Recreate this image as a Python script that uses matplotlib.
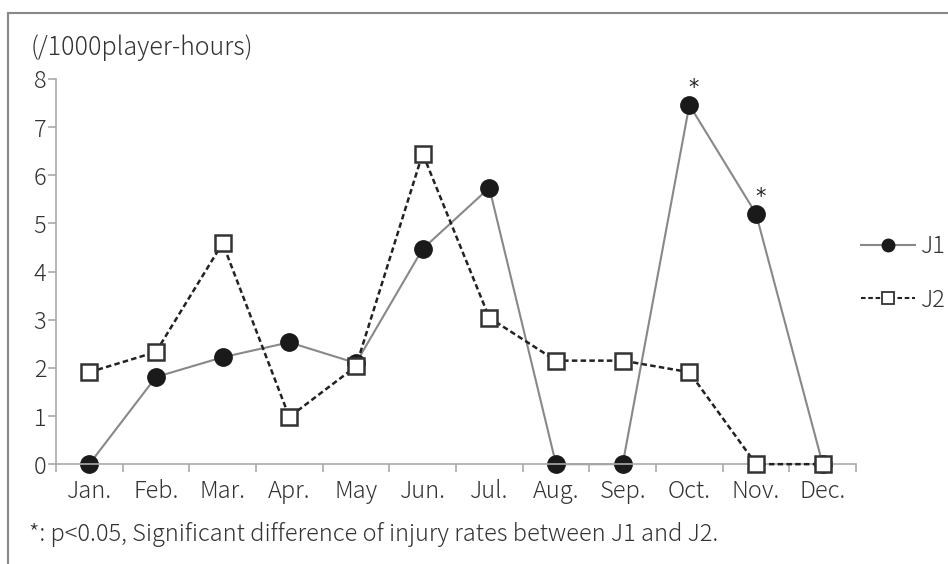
"""Monthly injury rate for J1 and J2"""

import matplotlib.pyplot as plt
from matplotlib.lines import Line2D

months = ["Jan.", "Feb.", "Mar.", "Apr.", "May", "Jun.",
          "Jul.", "Aug.", "Sep.", "Oct.", "Nov.", "Dec."]
j1_rate = [0, 1.81, 2.22, 2.53, 2.1, 4.47, 5.74, 0, 0, 7.46, 5.2, 0]
j2_rate = [1.91, 2.33, 4.59, 0.98, 2.03, 6.45, 3.04, 2.15, 2.15, 1.91, 0, 0]
significant = ["Oct.", "Nov."]

plt.rcParams['font.family'] = ['Noto Sans CJK JP', 'DejaVu Sans']
plt.rcParams['font.weight'] = 'light'
text_color = "#333333"
spine_color = "#aaaaaa"

fig = plt.figure(figsize=(9.48, 5.64), dpi=100)
ax = fig.add_axes([0.059, 0.177, 0.844, 0.683])

x = list(range(len(months)))
ax.plot(x, j1_rate, color="#888888", lw=1.5, marker="o", ms=12.5,
        mfc="#1a1a1a", mec="#1a1a1a", zorder=2)
ax.plot(x, j2_rate, color="#222222", lw=1.8, ls=(0, (2.2, 1.3)),
        marker="s", ms=11.5, mfc="white", mec="#333333", mew=1.8, zorder=3)

# mark the months with a significant difference
for m in significant:
    i = months.index(m)
    ax.annotate("*", (i, j1_rate[i]), xytext=(3, 12),
                textcoords="offset points", ha="center", va="center",
                fontsize=15, color="#222222", family="DejaVu Sans",
                fontweight="normal")

ax.set_xlim(-0.5, len(months) - 0.5)
ax.set_ylim(0, 8)
ax.set_xticks(x)
ax.set_xticklabels(months)
ax.set_xticks([i - 0.5 for i in range(len(months) + 1)], minor=True)
ax.tick_params(axis="x", which="major", length=0, pad=11,
               labelsize=17, labelcolor=text_color)
ax.tick_params(axis="x", which="minor", length=6, direction="out",
               color=spine_color, width=1.2)
ax.set_yticks(range(0, 9))
ax.tick_params(axis="y", length=6, direction="out", color=spine_color,
               width=1.2, labelsize=17, labelcolor=text_color, pad=1)
for side in ("top", "right"):
    ax.spines[side].set_visible(False)
for side in ("left", "bottom"):
    ax.spines[side].set_color(spine_color)
    ax.spines[side].set_linewidth(1.2)
for line in ax.lines:
    line.set_clip_on(False)

handles = [
    Line2D([], [], color="#888888", lw=1.5, marker="o", ms=9,
           mfc="#1a1a1a", mec="#1a1a1a"),
    Line2D([], [], color="#222222", lw=1.5, ls=(0, (2.2, 1.3)),
           marker="s", ms=9, mfc="white", mec="#333333", mew=1.3),
]
fig.legend(handles, ["J1", "J2"], loc="center left",
           bbox_to_anchor=(0.908, 0.515), frameon=False, fontsize=17,
           labelcolor=text_color, handlelength=2.3, handletextpad=0.25,
           labelspacing=1.2, borderaxespad=0, borderpad=0)

fig.text(0.032, 0.915, "(/1000player-hours)", fontsize=18,
         color=text_color, va="center")
fig.text(0.031, 0.052, "*: p<0.05, Significant difference of injury rates "
         "between J1 and J2.", fontsize=17, color=text_color, va="center")

# frame lines along the top and left edges
fig.add_artist(Line2D([0.0084, 1], [0.977, 0.977], color="#888888", lw=1.5,
                      transform=fig.transFigure))
fig.add_artist(Line2D([0.0084, 0.0084], [0, 0.977], color="#888888", lw=1.5,
                      transform=fig.transFigure))

fig.savefig("out.png", dpi=100)
